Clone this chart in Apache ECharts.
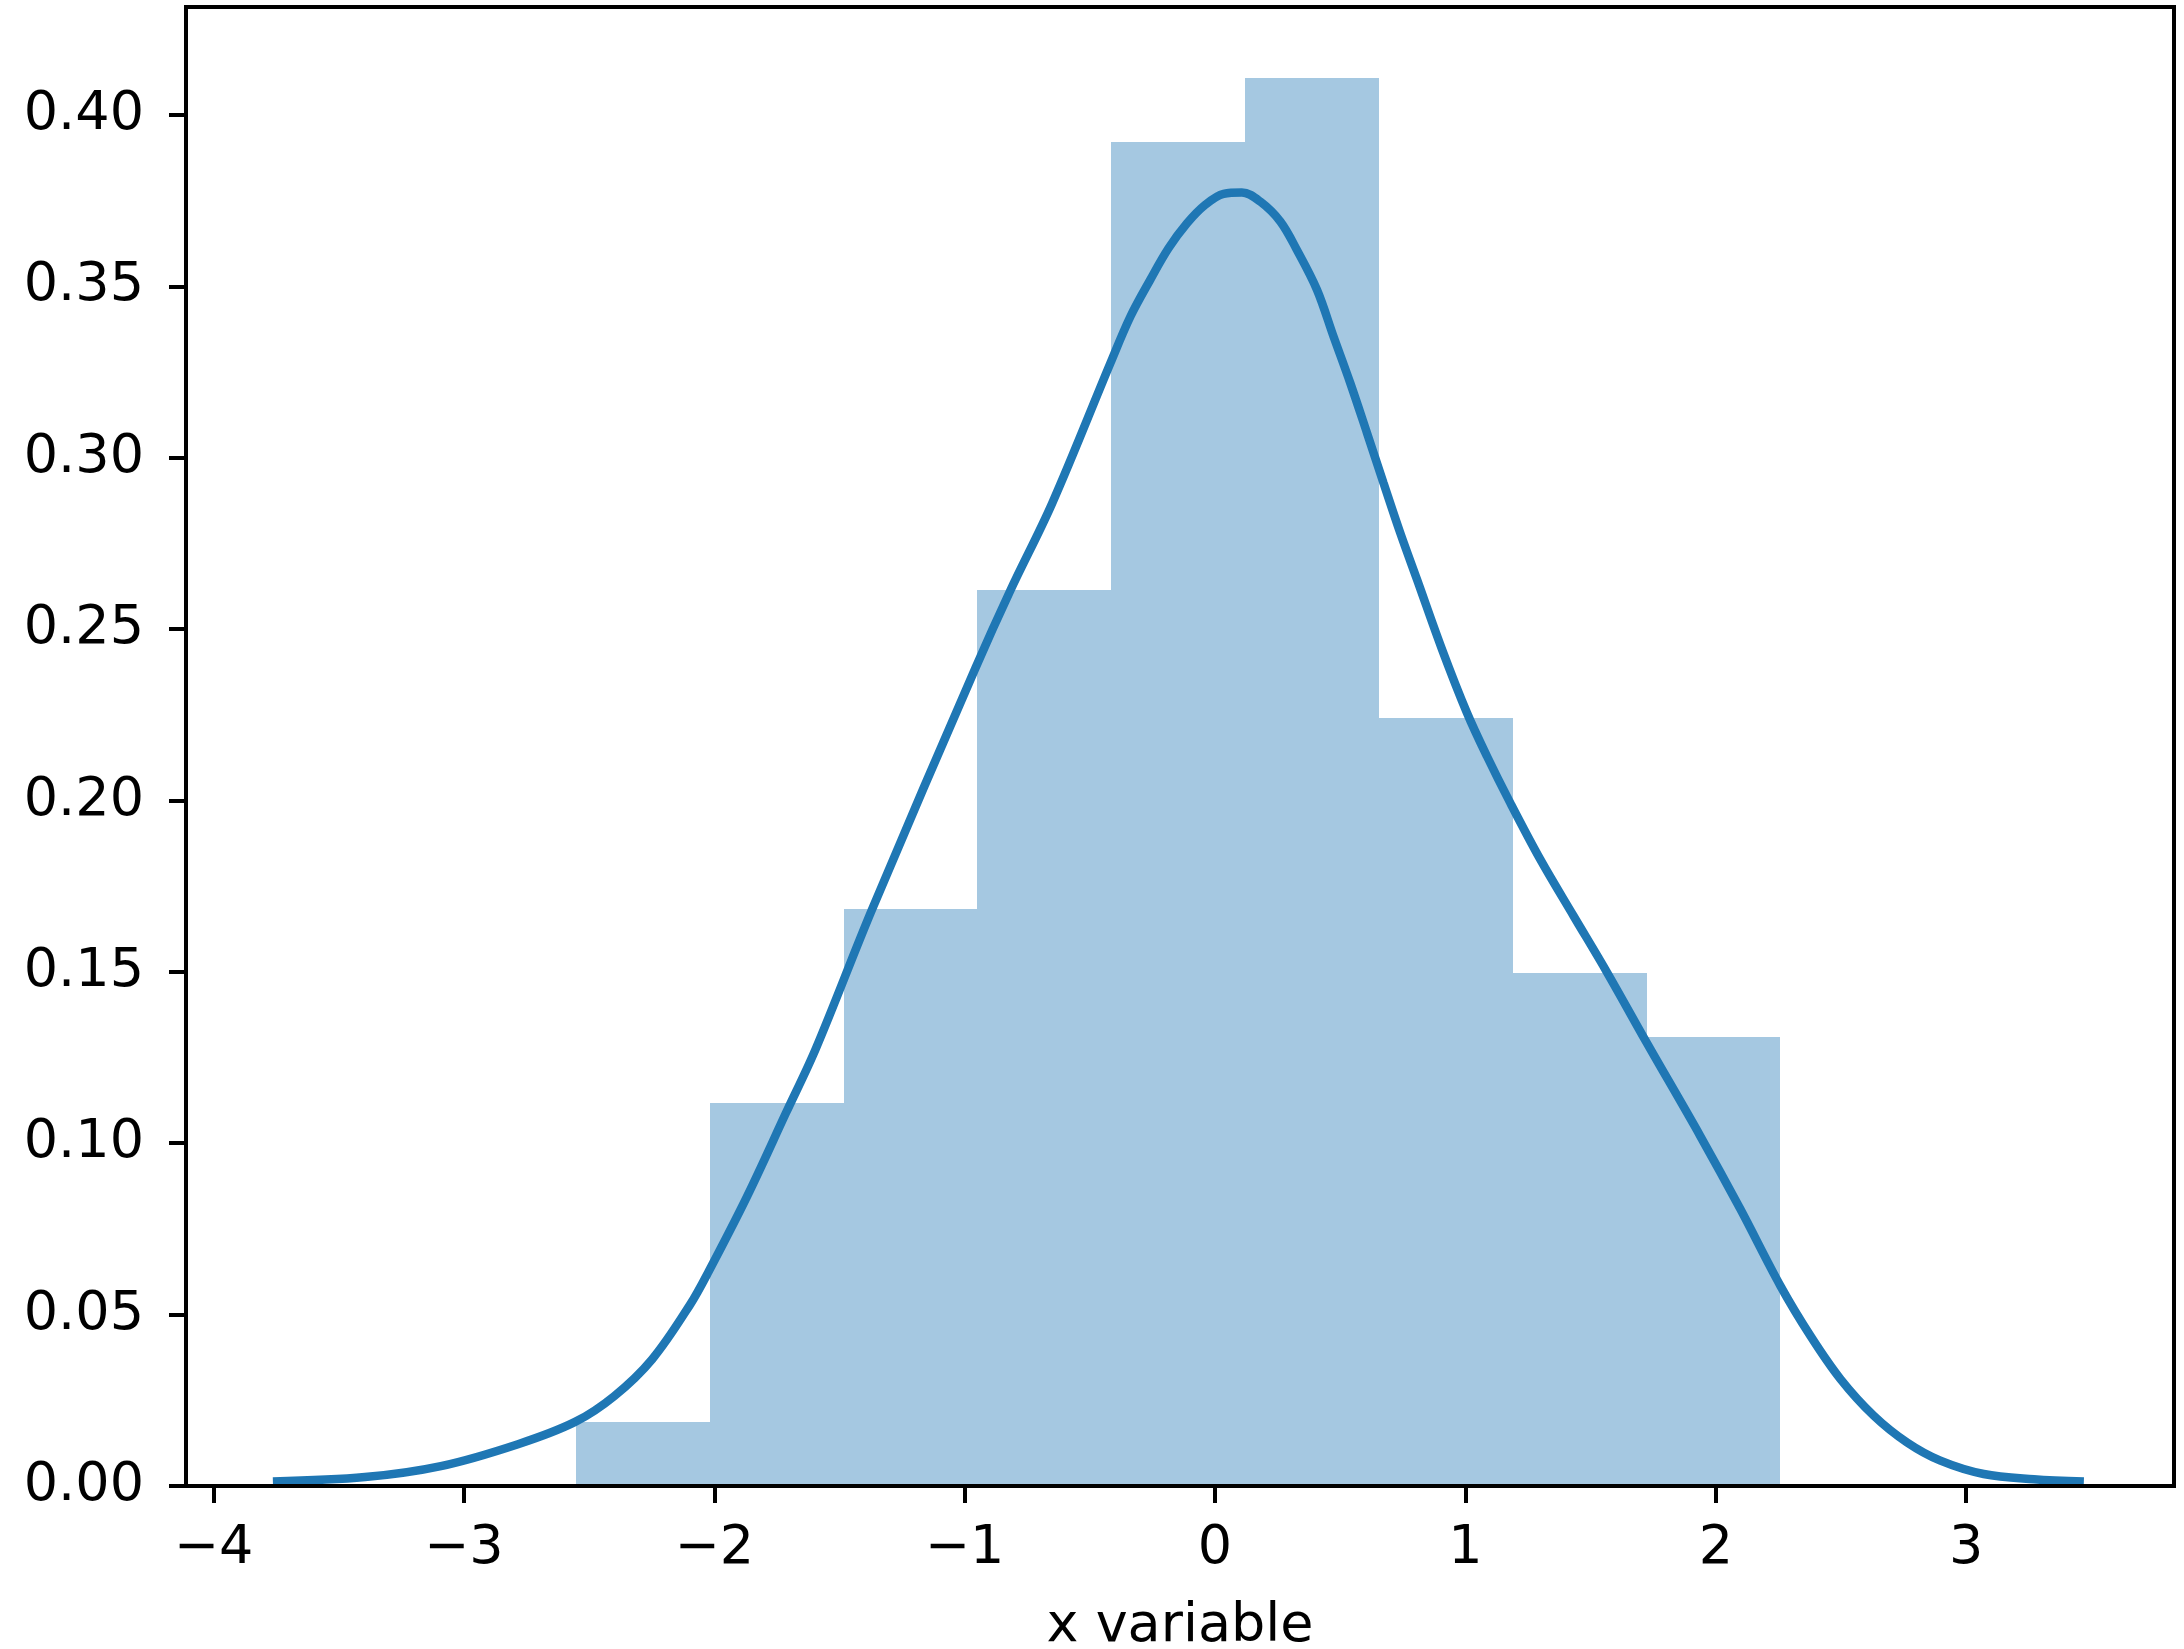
<!DOCTYPE html>
<html>
<head>
<meta charset="utf-8">
<script src="https://cdn.jsdelivr.net/npm/echarts@6/dist/echarts.min.js"></script>
<style>
  html, body { margin: 0; padding: 0; background: #fff; }
  #chart { width: 2184px; height: 1649px; }
</style>
</head>
<body>
<div id="chart"></div>
<script>
// histogram bins (density)
var binEdges = [-2.552, -2.018, -1.483, -0.949, -0.414, 0.120, 0.655, 1.189, 1.724, 2.258];
var binHeights = [0.0187, 0.1118, 0.1683, 0.2615, 0.392, 0.4108, 0.2242, 0.1496, 0.1309];

// kde curve
var kdeX = [-3.763, -3.395, -3.092, -2.784, -2.556, -2.400, -2.248, -2.096, -2.021, -1.869,
  -1.714, -1.594, -1.369, -0.956, -0.818, -0.650, -0.418, -0.338, -0.259, -0.186,
  -0.112, -0.039, 0.034, 0.107, 0.181, 0.261, 0.327, 0.407, 0.473, 0.540,
  0.607, 0.673, 0.740, 0.807, 0.907, 1.006, 1.086, 1.179, 1.299, 1.432,
  1.566, 1.725, 1.938, 2.098, 2.258, 2.378, 2.498, 2.631, 2.764, 2.897,
  3.070, 3.270, 3.470];
var kdeY = [0.0013, 0.0026, 0.0058, 0.0122, 0.0187, 0.0262, 0.0370, 0.0530, 0.0628, 0.0845,
  0.1088, 0.1277, 0.1684, 0.2388, 0.2612, 0.2868, 0.3276, 0.3412, 0.3519, 0.3611,
  0.3684, 0.3738, 0.3770, 0.3774, 0.3747, 0.3689, 0.3606, 0.3490, 0.3354, 0.3218,
  0.3072, 0.2926, 0.2780, 0.2644, 0.2440, 0.2256, 0.2129, 0.1993, 0.1828, 0.1663,
  0.1498, 0.1292, 0.1021, 0.0808, 0.0584, 0.0438, 0.0312, 0.0205, 0.0127, 0.0074,
  0.0035, 0.0020, 0.0013];

var xTicks = [-4, -3, -2, -1, 0, 1, 2, 3];
var yTicks = [0, 0.05, 0.10, 0.15, 0.20, 0.25, 0.30, 0.35, 0.40];

var barData = [];
for (var i = 0; i < binHeights.length; i++) {
  barData.push([binEdges[i], binEdges[i + 1], binHeights[i]]);
}
var lineData = [];
for (var j = 0; j < kdeX.length; j++) {
  lineData.push([kdeX[j], kdeY[j]]);
}

var font = 'DejaVu Sans';
var chart = echarts.init(document.getElementById('chart'), null, { renderer: 'canvas' });

chart.setOption({
  backgroundColor: '#fff',
  animation: false,
  grid: {
    left: 186, right: 10, top: 7, bottom: 163,
    outerBoundsMode: 'none', containLabel: false,
    show: true, borderColor: '#000', borderWidth: 4, backgroundColor: '#fff'
  },
  xAxis: {
    type: 'value', min: -4.11, max: 3.83, z: 10,
    name: 'x variable', nameLocation: 'middle', nameGap: 114,
    nameTextStyle: { fontFamily: font, fontSize: 54, color: '#000' },
    splitLine: { show: false },
    axisLine: { show: true, onZero: false, lineStyle: { color: '#000', width: 4 } },
    axisTick: { show: true, length: 17, lineStyle: { color: '#000', width: 4 }, customValues: xTicks },
    axisLabel: {
      fontFamily: font, fontSize: 54, color: '#000', margin: 36, customValues: xTicks,
      formatter: function (v) { return v < 0 ? '\u2212' + Math.abs(v) : String(v); }
    }
  },
  yAxis: {
    type: 'value', min: 0, max: 0.4315, z: 10,
    splitLine: { show: false },
    axisLine: { show: true, onZero: false, lineStyle: { color: '#000', width: 4 } },
    axisTick: { show: true, length: 17, lineStyle: { color: '#000', width: 4 }, customValues: yTicks },
    axisLabel: {
      fontFamily: font, fontSize: 54, color: '#000', margin: 42, customValues: yTicks,
      formatter: function (v) { return v.toFixed(2); }
    }
  },
  series: [
    {
      type: 'custom',
      data: barData,
      encode: { x: [0, 1], y: 2 },
      renderItem: function (params, api) {
        var topLeft = api.coord([api.value(0), api.value(2)]);
        var bottomRight = api.coord([api.value(1), 0]);
        var x0 = Math.round(topLeft[0]);
        var x1 = Math.round(bottomRight[0]);
        return {
          type: 'rect',
          shape: {
            x: x0, y: Math.round(topLeft[1]),
            width: x1 - x0, height: Math.round(bottomRight[1]) - Math.round(topLeft[1])
          },
          style: { fill: '#a5c8e1' }
        };
      }
    },
    {
      type: 'line',
      data: lineData,
      showSymbol: false,
      smooth: 0.35,
      lineStyle: { color: '#1f77b4', width: 8.5 }
    }
  ]
});
</script>
</body>
</html>
